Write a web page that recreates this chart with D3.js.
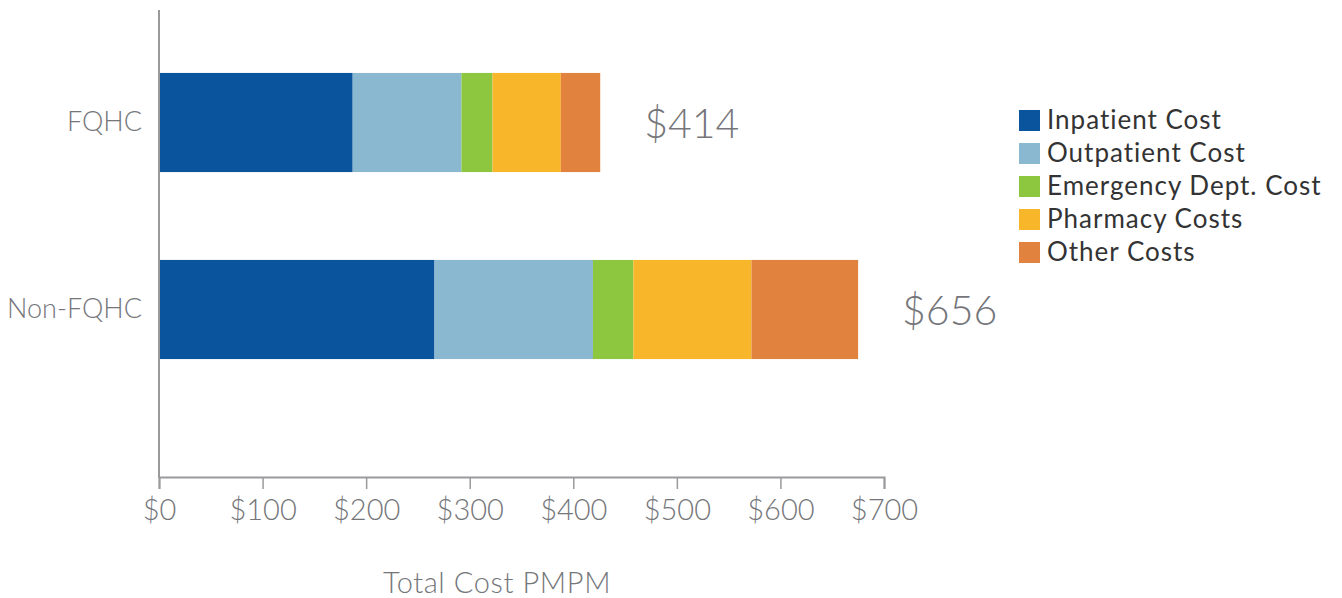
<!DOCTYPE html>
<html>
<head>
<meta charset="utf-8">
<script src="https://cdn.jsdelivr.net/npm/d3@7"></script>
<style>
  body { margin: 0; background: #fff; }
  text { font-family: Lato, "Open Sans", sans-serif; }
</style>
</head>
<body>
<div id="chart"></div>
<script>
const categories = ["FQHC", "Non-FQHC"];
const seriesNames = ["Inpatient Cost", "Outpatient Cost", "Emergency Dept. Cost", "Pharmacy Costs", "Other Costs"];
const inpatient = [187, 266];
const outpatient = [105, 153];
const emergency = [30, 39];
const pharmacy = [66, 114];
const other = [38, 103];
const totalLabels = ["$414", "$656"];
const xTicks = [0, 100, 200, 300, 400, 500, 600, 700];
const colors = ["#0a549e", "#8ab8d0", "#8dc63f", "#f8b62a", "#e1833e"];

const width = 1342, height = 598;
const grey = "#75767a";

const rows = categories.map((c, i) => ({
    cat: c,
    "Inpatient Cost": inpatient[i],
    "Outpatient Cost": outpatient[i],
    "Emergency Dept. Cost": emergency[i],
    "Pharmacy Costs": pharmacy[i],
    "Other Costs": other[i]
}));
const stacked = d3.stack().keys(seriesNames)(rows);

const x = d3.scaleLinear().domain([0, 700]).range([159, 884]);
const y = d3.scaleBand()
    .domain(categories)
    .range([29, 403])
    .paddingInner(0.47)
    .paddingOuter(0.235);

const svg = d3.select("#chart").append("svg")
    .attr("width", width)
    .attr("height", height);

// bars
svg.selectAll("g.series")
    .data(stacked)
    .enter()
    .append("g")
    .attr("class", "series")
    .attr("fill", (d, i) => colors[i])
    .selectAll("rect")
    .data(d => d)
    .enter()
    .append("rect")
    .attr("x", d => x(d[0]))
    .attr("y", d => y(d.data.cat))
    .attr("width", d => x(d[1]) - x(d[0]))
    .attr("height", y.bandwidth());

// x axis
const xAxis = svg.append("g")
    .attr("transform", "translate(0,477)")
    .call(d3.axisBottom(x).tickValues(xTicks).tickFormat(d => "$" + d).tickSize(12).tickPadding(10));
xAxis.select(".domain").attr("stroke", "#9a9a9d").attr("stroke-width", 2);
xAxis.selectAll(".tick line").attr("stroke", "#9a9a9d").attr("stroke-width", 1.5);
xAxis.selectAll(".tick text")
    .attr("fill", grey)
    .style("font-size", "29px")
    .style("font-weight", 300);

// y axis
const yAxis = svg.append("g")
    .attr("transform", "translate(159,0)")
    .call(d3.axisLeft(y).tickSize(0).tickPadding(17));
yAxis.select(".domain").remove();
yAxis.selectAll(".tick text")
    .attr("fill", grey)
    .style("font-size", "27px")
    .style("font-weight", 300);
svg.append("line")
    .attr("x1", 159).attr("x2", 159)
    .attr("y1", 10).attr("y2", 478)
    .attr("stroke", "#9a9a9d")
    .attr("stroke-width", 2);

// totals
svg.selectAll("text.total")
    .data(categories)
    .enter()
    .append("text")
    .attr("class", "total")
    .attr("x", (d, i) => x(d3.sum(stacked, s => s[i][1] - s[i][0])) + 44)
    .attr("y", d => y(d) + y.bandwidth() / 2 + 15)
    .attr("fill", grey)
    .style("font-size", "41px")
    .style("font-weight", 300)
    .text((d, i) => totalLabels[i]);

// axis title
svg.append("text")
    .attr("x", 497)
    .attr("y", 593)
    .attr("text-anchor", "middle")
    .attr("fill", grey)
    .style("font-size", "29px")
    .style("font-weight", 300)
    .style("letter-spacing", "0.6px")
    .text("Total Cost PMPM");

// legend
const legend = svg.selectAll("g.legend")
    .data(seriesNames)
    .enter()
    .append("g")
    .attr("class", "legend")
    .attr("transform", (d, i) => "translate(1019," + (110 + i * 33) + ")");
legend.append("rect")
    .attr("width", 21)
    .attr("height", 21)
    .attr("fill", (d, i) => colors[i]);
legend.append("text")
    .attr("x", 28)
    .attr("y", 19)
    .attr("fill", "#333")
    .style("font-size", "26px")
    .style("letter-spacing", "1px")
    .text(d => d);
</script>
</body>
</html>
